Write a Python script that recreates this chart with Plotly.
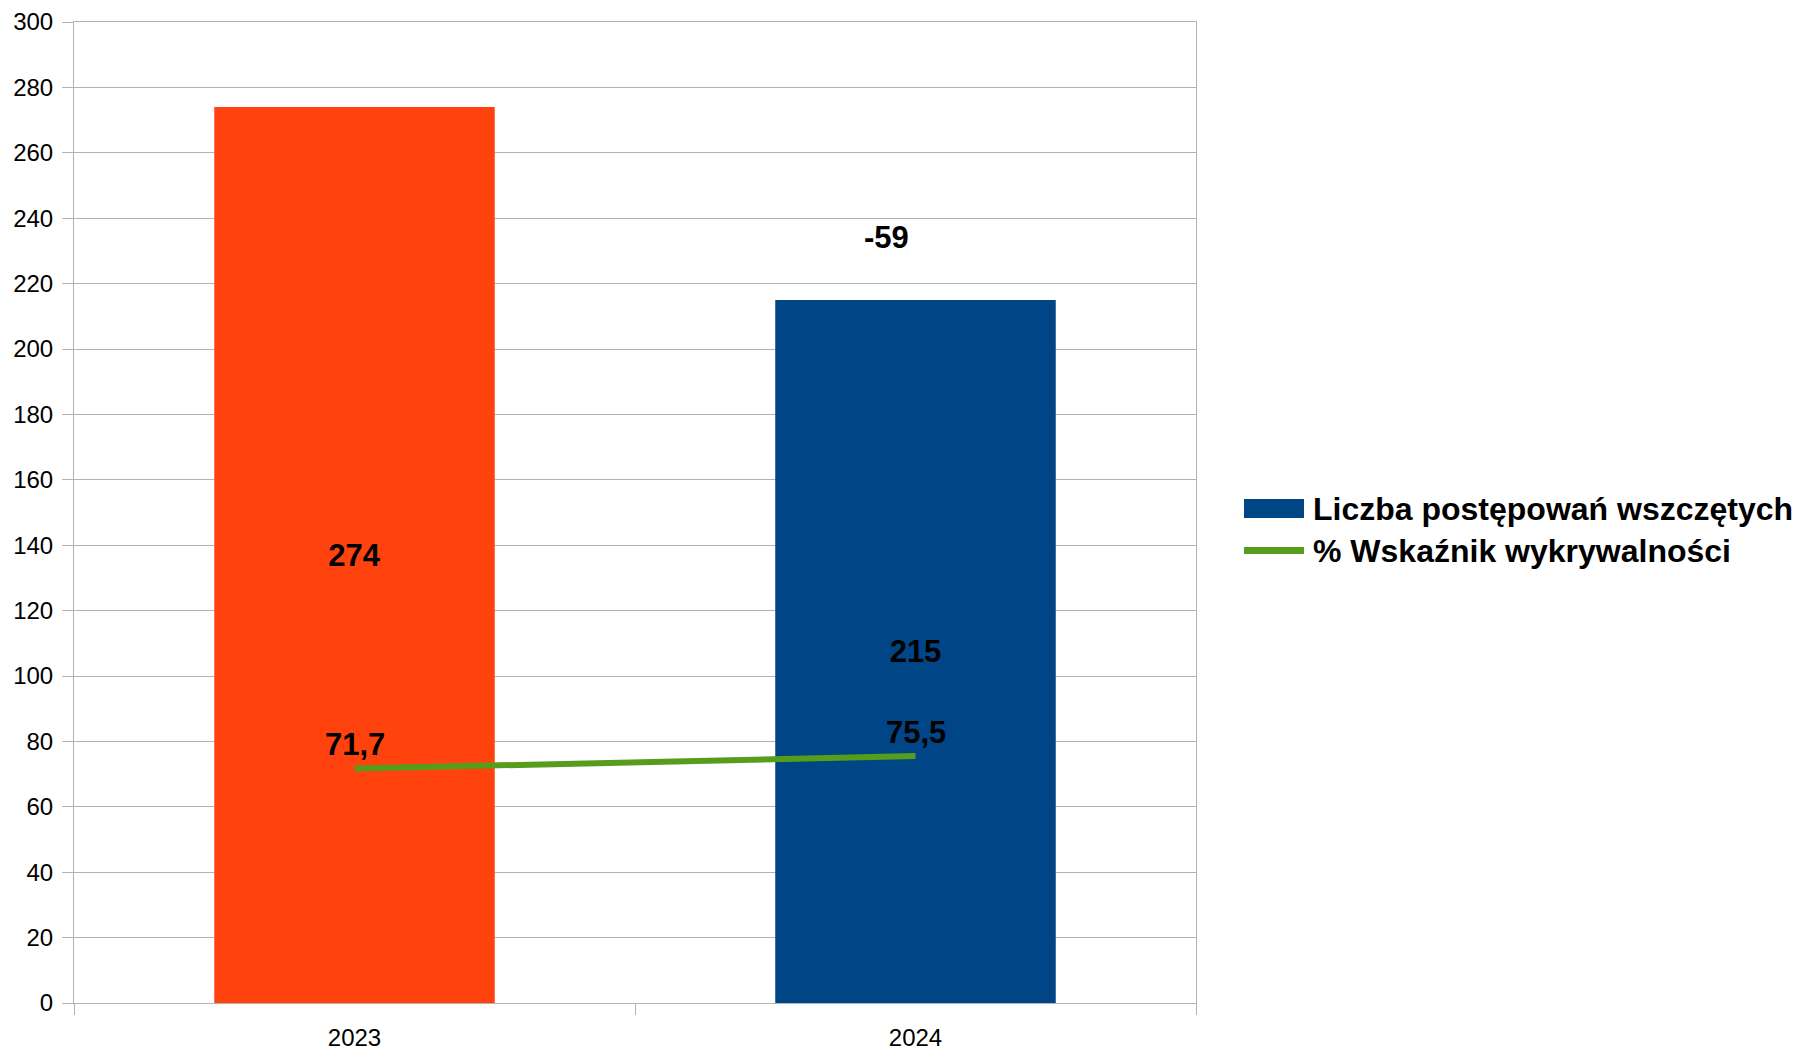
import plotly.graph_objects as go

years = ["2023", "2024"]
cases = [274, 215]
detection = [71.7, 75.5]
bar_colors = ["#ff420e", "#004586"]
series_bar = "Liczba postępowań wszczętych"
series_line = "% Wskaźnik wykrywalności"
y_ticks = list(range(0, 301, 20))
diff_label_y = 234

diff = cases[1] - cases[0]

FONT = "Liberation Sans, Arial, sans-serif"
BLUE = "#004586"
GREEN = "#579d1c"

# the page body has an 8px margin, so the figure is offset by 8px
OFF = 8
W, H = 1807 - OFF, 1050 - OFF
L, T, PW, PH = 74 - OFF, 22 - OFF, 1122, 981
R, B = W - L - PW, H - T - PH


def px(xp):
    return (xp - OFF - L) / PW


def py(yp):
    return (T + PH - (yp - OFF)) / PH


fig = go.Figure()
fig.add_trace(go.Bar(
    x=years, y=cases, name=series_bar,
    marker=dict(color=bar_colors, line=dict(width=0)),
    text=[str(v) for v in cases], textposition="inside", insidetextanchor="middle",
    textfont=dict(family=FONT, size=31, color="black", weight="bold"),
    width=0.5, showlegend=False,
))
fig.add_trace(go.Scatter(
    x=years, y=detection, name=series_line, mode="lines",
    line=dict(color=GREEN, width=6),
    showlegend=False,
))
for i, v in enumerate(detection):
    fig.add_annotation(x=i, y=v, xref="x", yref="y", text="<b>" + f"{v:.1f}".replace(".", ",") + "</b>",
                       showarrow=False, yshift=24, font=dict(family=FONT, size=31, color="black"))
fig.add_annotation(x=1, y=diff_label_y, xref="x", yref="y", text=f"<b>{diff}</b>", showarrow=False,
                   xshift=-29, font=dict(family=FONT, size=31, color="black"))

# legend (drawn manually to match the wide swatches)
fig.add_shape(type="rect", xref="paper", yref="paper", x0=px(1244), x1=px(1304), y0=py(518), y1=py(499),
              fillcolor=BLUE, line=dict(width=0))
fig.add_shape(type="rect", xref="paper", yref="paper", x0=px(1244), x1=px(1304), y0=py(554), y1=py(547),
              fillcolor=GREEN, line=dict(width=0))
for name, yc in [(series_bar, 509), (series_line, 551)]:
    fig.add_annotation(x=px(1311), y=py(yc), xref="paper", yref="paper", xanchor="left", yanchor="middle",
                       text=f"<b>{name}</b>", showarrow=False,
                       font=dict(family=FONT, size=32, color="black"))

fig.update_layout(
    width=W, height=H,
    margin=dict(l=L, r=R, t=T, b=B, autoexpand=False),
    plot_bgcolor="white", paper_bgcolor="white",
    font=dict(family=FONT, size=24, color="black"),
    showlegend=False,
)
fig.update_xaxes(type="category", range=[-0.5, 1.5], showline=True, linecolor="#b3b3b3", linewidth=1, mirror=True,
                 ticks="outside", tickson="boundaries", ticklen=11, tickcolor="#b3b3b3",
                 showgrid=False, ticklabelstandoff=13, tickangle=0, automargin=False,
                 tickfont=dict(family=FONT, size=24, color="black"))
fig.update_yaxes(range=[0, 300], tickvals=y_ticks, showline=True, linecolor="#b3b3b3", linewidth=1,
                 mirror=True, ticks="outside", ticklen=11, tickcolor="#b3b3b3",
                 showgrid=True, gridcolor="#b3b3b3", gridwidth=1, zeroline=False,
                 ticklabelstandoff=4, automargin=False,
                 tickfont=dict(family=FONT, size=24, color="black"))

fig.write_html("out.html")
